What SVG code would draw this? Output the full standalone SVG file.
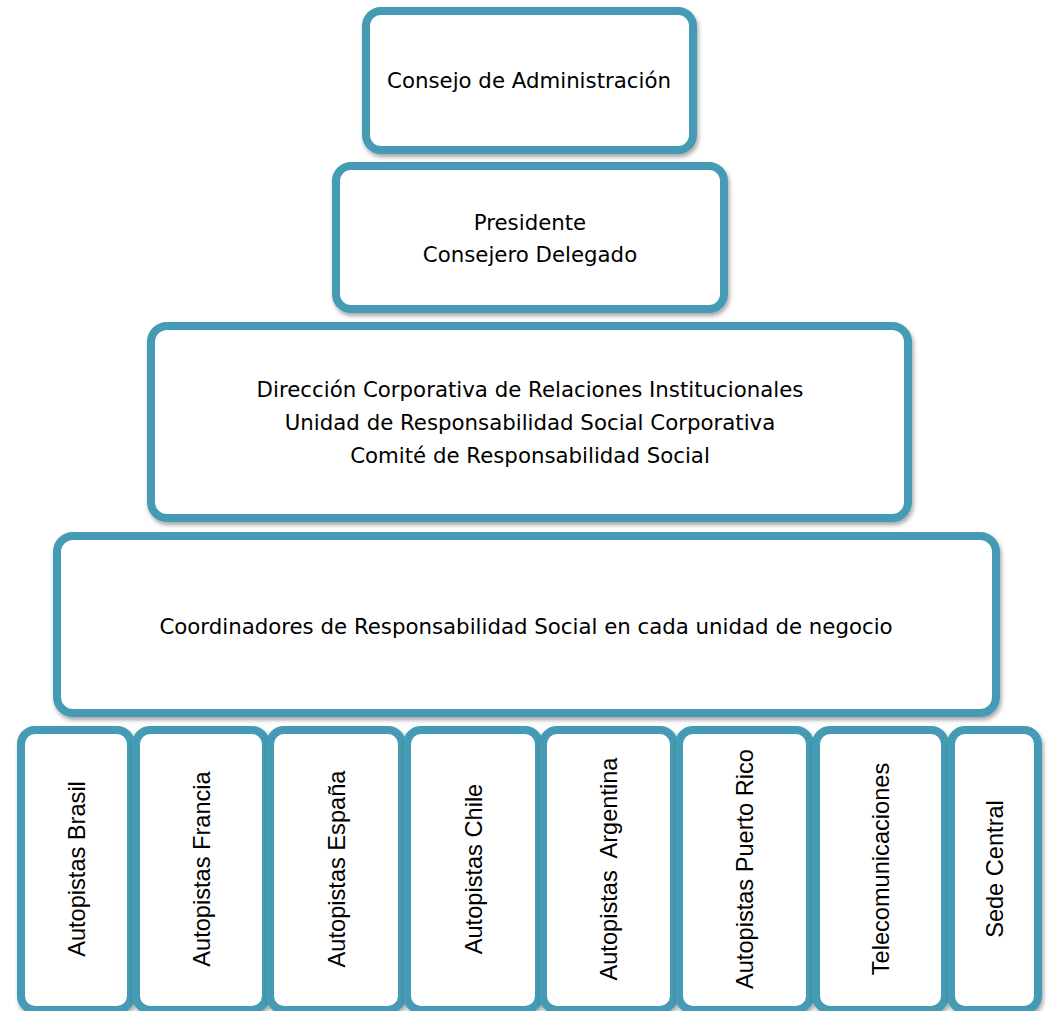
<svg xmlns="http://www.w3.org/2000/svg" width="1046" height="1011" viewBox="0 0 1046 1011">
<defs>
<filter id="sh" x="-5%" y="-5%" width="115%" height="115%">
<feDropShadow dx="1.5" dy="3" stdDeviation="2" flood-color="#000" flood-opacity="0.35"/>
</filter>
<style>
.box{fill:#fff;stroke:#449BB4;stroke-width:8;filter:url(#sh)}
.t{font-family:"DejaVu Sans",Verdana,sans-serif;font-size:21.3px;fill:#000;text-anchor:middle}
.v{font-family:"Liberation Sans",Arial,sans-serif;font-size:23.6px;fill:#000;text-anchor:middle}
</style>
</defs>
<rect width="1046" height="1011" fill="#fff"/>
<g id="connectors"></g>
<g id="n1">
<rect class="box" x="366" y="11" width="327" height="139" rx="15"/>
<text class="t" x="529" y="88">Consejo de Administración</text>
</g>
<g id="n2">
<rect class="box" x="336" y="166" width="388" height="143" rx="15"/>
<text class="t" x="530" y="230">Presidente</text>
<text class="t" x="530" y="262">Consejero Delegado</text>
</g>
<g id="n3">
<rect class="box" x="151" y="326" width="757" height="192" rx="16"/>
<text class="t" x="530" y="397">Dirección Corporativa de Relaciones Institucionales</text>
<text class="t" x="530" y="430">Unidad de Responsabilidad Social Corporativa</text>
<text class="t" x="530" y="463">Comité de Responsabilidad Social</text>
</g>
<g id="n4">
<rect class="box" x="57" y="536" width="939" height="177" rx="16"/>
<text class="t" x="526" y="634">Coordinadores de Responsabilidad Social en cada unidad de negocio</text>
</g>
<g id="b1">
<rect class="box" x="21" y="730" width="110" height="280" rx="14"/>
<text class="v" transform="translate(76 869) rotate(-90)" y="8.5">Autopistas Brasil</text>
</g>
<g id="b2">
<rect class="box" x="136" y="730" width="130" height="280" rx="14"/>
<text class="v" transform="translate(201 869) rotate(-90)" y="8.5">Autopistas Francia</text>
</g>
<g id="b3">
<rect class="box" x="270" y="730" width="132" height="280" rx="14"/>
<text class="v" transform="translate(336 869) rotate(-90)" y="8.5">Autopistas España</text>
</g>
<g id="b4">
<rect class="box" x="407" y="730" width="132" height="280" rx="14"/>
<text class="v" transform="translate(473 869) rotate(-90)" y="8.5">Autopistas Chile</text>
</g>
<g id="b5">
<rect class="box" x="543" y="730" width="131" height="280" rx="14"/>
<text class="v" transform="translate(608.5 869) rotate(-90)" y="8.5" xml:space="preserve">Autopistas  Argentina</text>
</g>
<g id="b6">
<rect class="box" x="679" y="730" width="131" height="280" rx="14"/>
<text class="v" transform="translate(744.5 869) rotate(-90)" y="8.5">Autopistas Puerto Rico</text>
</g>
<g id="b7">
<rect class="box" x="816" y="730" width="129" height="280" rx="14"/>
<text class="v" transform="translate(880.5 869) rotate(-90)" y="8.5">Telecomunicaciones</text>
</g>
<g id="b8">
<rect class="box" x="951" y="730" width="87" height="280" rx="14"/>
<text class="v" transform="translate(994.5 869) rotate(-90)" y="8.5">Sede Central</text>
</g>
</svg>
